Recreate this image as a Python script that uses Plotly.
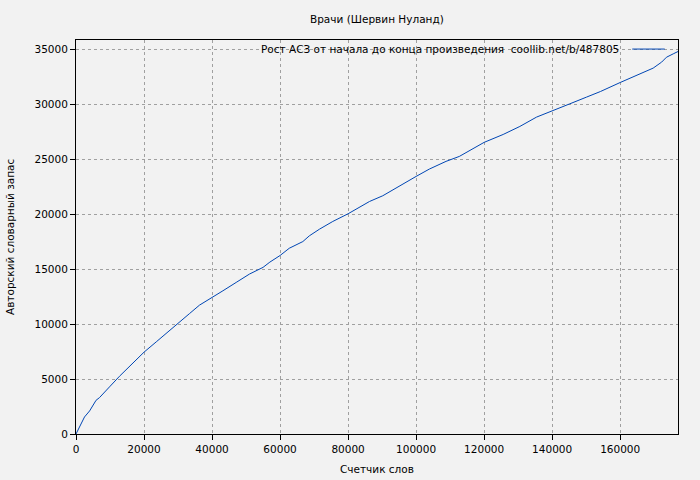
import plotly.graph_objects as go

words = [0, 2000, 2500, 4000, 5400, 5900, 6900, 7900, 9850, 12800, 16200, 20000,
         23600, 27500, 30400, 33400, 36300, 38300, 40000, 43200, 47100, 51000,
         55000, 57000, 60000, 62700, 66700, 68600, 71600, 75500, 80000, 82400,
         86300, 90200, 93100, 96100, 100000, 103900, 108800, 112700, 115800,
         120000, 125600, 130500, 135400, 140000, 145200, 150100, 154200, 160000,
         165800, 169700, 172200, 173600, 175600, 177000]
vocab = [0, 1250, 1550, 2100, 2770, 3070, 3310, 3620, 4290, 5260, 6260, 7450,
         8390, 9450, 10210, 10970, 11730, 12100, 12400, 13040, 13800, 14560,
         15170, 15650, 16250, 16910, 17520, 18040, 18650, 19350, 20050, 20470,
         21170, 21690, 22230, 22780, 23450, 24120, 24820, 25270, 25800,
         26550, 27270, 28000, 28850, 29450, 30060, 30670, 31180, 32000,
         32800, 33310, 33860, 34300, 34610, 34820]

x_ticks = [0, 20000, 40000, 60000, 80000, 100000, 120000, 140000, 160000]
y_ticks = [0, 5000, 10000, 15000, 20000, 25000, 30000, 35000]

title_text = "Врачи (Шервин Нуланд)"
legend_text = "Рост АСЗ от начала до конца произведения  coollib.net/b/487805"
x_title = "Счетчик слов"
y_title = "Авторский словарный запас"

line_color = "#0046b4"
font_family = "DejaVu Sans"
fs = 10.5

fig = go.Figure()
fig.add_trace(go.Scatter(x=words, y=vocab, mode="lines",
                         line=dict(color=line_color, width=1),
                         showlegend=False, hoverinfo="skip"))

axis_common = dict(
    showline=True, linecolor="black", linewidth=1, mirror=True,
    ticks="outside", ticklen=5, tickcolor="black", tickwidth=1,
    showgrid=True, gridcolor="#a0a0a0", griddash="dot", gridwidth=1,
    zeroline=False, automargin=False,
    tickfont=dict(family=font_family, size=fs, color="black"),
)

fig.update_xaxes(range=[0, 177000], tickvals=x_ticks,
                 ticktext=[str(v) for v in x_ticks], **axis_common)
fig.update_yaxes(range=[0, 35870], tickvals=y_ticks,
                 ticktext=[str(v) for v in y_ticks], **axis_common)

txt_font = dict(family=font_family, size=fs, color="black")
fig.add_annotation(text=title_text, xref="paper", yref="paper", x=0.5, y=1,
                   yshift=21, xanchor="center", yanchor="middle",
                   showarrow=False, font=txt_font)
fig.add_annotation(text=x_title, xref="paper", yref="paper", x=0.5, y=0,
                   yshift=-35, xanchor="center", yanchor="middle",
                   showarrow=False, font=txt_font)
fig.add_annotation(text=y_title, xref="paper", yref="paper", x=0, y=0.5,
                   xshift=-66, xanchor="center", yanchor="middle", textangle=-90,
                   showarrow=False, font=txt_font)
fig.add_annotation(text=legend_text, xref="paper", yref="paper",
                   x=0.905, y=0.977, xanchor="right", yanchor="middle",
                   showarrow=False, font=txt_font)
fig.add_shape(type="line", xref="paper", yref="paper",
              x0=0.924, x1=0.978, y0=0.977, y1=0.977,
              line=dict(color=line_color, width=1))

fig.update_layout(
    width=700, height=480,
    margin=dict(l=76, r=22, t=40, b=46, autoexpand=False),
    paper_bgcolor="#f2f2f2", plot_bgcolor="#f2f2f2",
    font=dict(family=font_family, size=fs, color="black"),
)

fig.write_html("out.html",
               config={"displayModeBar": False, "staticPlot": True},
               post_script="document.body.style.margin='0';document.body.style.background='#f2f2f2';")
